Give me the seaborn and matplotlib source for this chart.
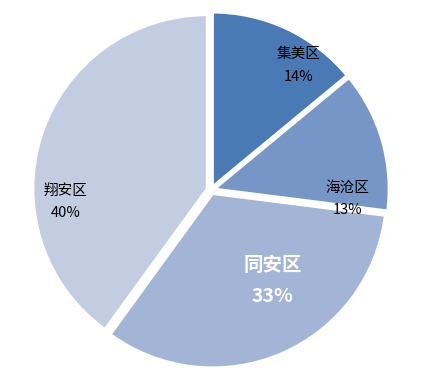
import matplotlib
matplotlib.use("Agg")
import matplotlib.pyplot as plt
import seaborn as sns

districts = ["集美区", "海沧区", "同安区", "翔安区"]
shares = [14, 13, 33, 40]
colors = ["#4a7ab5", "#7596c6", "#a3b5d6", "#c3cde2"]

# label anchor spots (pie units)
label_xy = [(0.50, 0.71), (0.78, -0.05), (0.35, -0.52), (-0.83, -0.07)]

sns.set_style("white")
plt.rcParams["font.family"] = ["Noto Sans CJK SC", "DejaVu Sans"]

fig = plt.figure(figsize=(4.37, 3.83), dpi=100)
ax = fig.add_axes([0.0618, 0.0235, 0.842, 0.961])

ax.pie(shares, colors=colors, startangle=90, counterclock=False,
       explode=[0.025] * len(shares), radius=0.99,
       wedgeprops=dict(edgecolor="white", linewidth=1.5))

for name, val, (x, y) in zip(districts, shares, label_xy):
    if name == "同安区":
        ax.text(x, y, f"{name}\n{val}%", ha="center", va="center",
                fontsize=14, fontweight="bold", color="white", linespacing=1.8)
    else:
        ax.text(x, y, f"{name}\n{val}%", ha="center", va="center",
                fontsize=10.5, color="black", linespacing=1.75)

ax.set_xlim(-1.05, 1.05)
ax.set_ylim(-1.05, 1.05)
ax.set_aspect("equal")
ax.axis("off")

fig.savefig("out.png", dpi=100)
